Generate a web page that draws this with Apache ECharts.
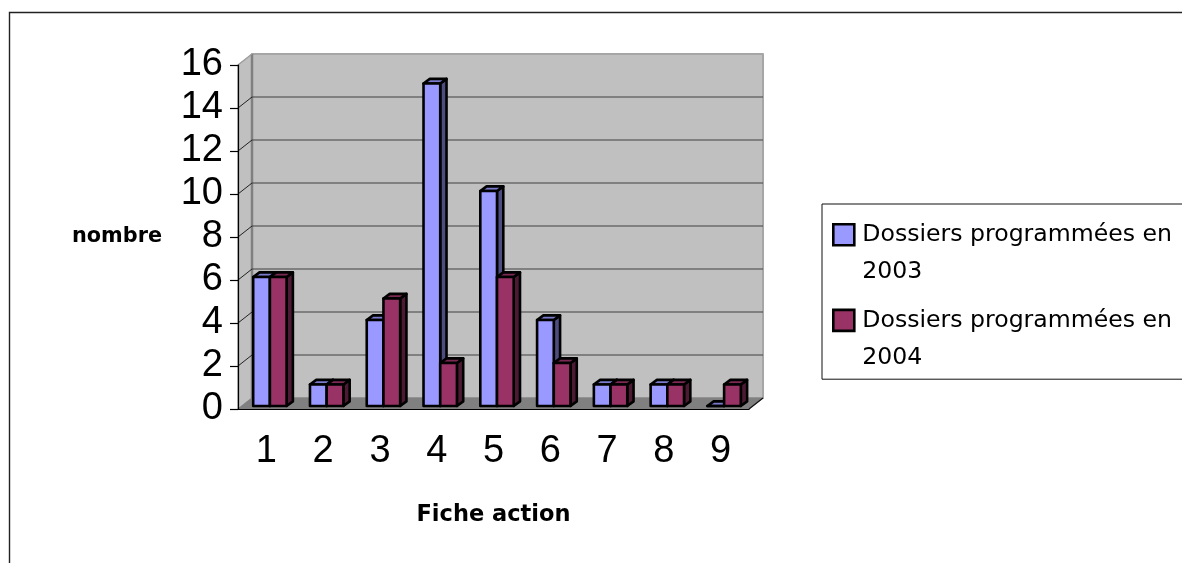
<!DOCTYPE html>
<html><head><meta charset="utf-8">
<style>html,body{margin:0;padding:0;background:#fff}#c{width:1182px;height:563px}</style>
<script src="https://cdn.jsdelivr.net/npm/echarts@6/dist/echarts.min.js"></script>
</head><body><div id="c"></div>
<script>
const categories = ['1','2','3','4','5','6','7','8','9'];
const yTicks = [2,4,6,8,10,12,14,16];
const values2003 = [6,1,4,15,10,4,1,1,0];
const values2004 = [6,1,5,2,6,2,1,1,1];
const name2003 = 'Dossiers programmées en 2003';
const name2004 = 'Dossiers programmées en 2004';

const WALL_DX = 14, WALL_DY = 11;
const BAR_W = 16.7, BAR_SHIFT_X = 3.5, BAR_SHIFT_Y = 3, BAR_DX = 6.3, BAR_DY = 4.6;
const axisFont = '"Liberation Sans", Arial, sans-serif';
const textFont = '"DejaVu Sans", sans-serif';

function poly(points, fill, stroke, lineWidth){
  return {type:'polygon', shape:{points}, style:{fill, stroke, lineWidth, lineJoin:'round'}, silent:true};
}
function line(a, b, stroke, lineWidth){
  return {type:'line', shape:{x1:a[0],y1:a[1],x2:b[0],y2:b[1]}, style:{stroke, lineWidth}, silent:true};
}
function frame(api){
  const band = api.size([1,0])[0];
  const o = api.coord([0,0]);
  return {x0:o[0]-band/2, x1:api.coord([categories.length-1,0])[0]+band/2, y0:o[1], yTop:api.coord([0,16])[1]};
}
function renderWalls(p, api){
  const f = frame(api), dx = WALL_DX, dy = WALL_DY;
  return {type:'group', children:[
    poly([[f.x0+dx,f.yTop-dy],[f.x1+dx,f.yTop-dy],[f.x1+dx,f.y0-dy],[f.x0+dx,f.y0-dy]],'#C0C0C0','#A6A6A6',2),
    poly([[f.x0,f.y0],[f.x0+dx,f.y0-dy],[f.x0+dx,f.yTop-dy],[f.x0,f.yTop]],'#C0C0C0','#A0A0A0',1.5),
    line([f.x0+dx,f.yTop-dy],[f.x0+dx,f.y0-dy],'#808080',2.5),
    poly([[f.x0,f.y0],[f.x1,f.y0],[f.x1+dx,f.y0-dy],[f.x0+dx,f.y0-dy]],'#808080','#808080',1),
    line([f.x1,f.y0],[f.x1+dx,f.y0-dy],'#111',1.2)
  ]};
}
function renderGrid(p, api){
  const f = frame(api), v = api.value(0), y = api.coord([0,v])[1];
  const isTop = v === yTicks[yTicks.length-1];
  const kids = [line([f.x0,y],[f.x0+WALL_DX,y-WALL_DY], isTop ? '#A0A0A0' : '#222', 1)];
  if(!isTop) kids.push(line([f.x0+WALL_DX,y-WALL_DY],[f.x1+WALL_DX,y-WALL_DY],'#404040',1.1));
  return {type:'group', children:kids};
}
function barRenderer(offset, front, side, top){
  return function(p, api){
    const c = api.coord([api.value(0), api.value(1)]);
    const base = api.coord([api.value(0), 0]);
    const xl = c[0]+BAR_SHIFT_X+offset*BAR_W, xr = xl+BAR_W;
    const yt = c[1]-BAR_SHIFT_Y, yb = base[1]-BAR_SHIFT_Y;
    const dx = BAR_DX, dy = BAR_DY;
    return {type:'group', children:[
      poly([[xr,yb],[xr+dx,yb-dy],[xr+dx,yt-dy],[xr,yt]],side,'#000',2.6),
      poly([[xl,yt],[xr,yt],[xr+dx,yt-dy],[xl+dx,yt-dy]],top,'#000',2.6),
      poly([[xl,yb],[xr,yb],[xr,yt],[xl,yt]],front,'#000',2.6)
    ]};
  };
}
const chart = echarts.init(document.getElementById('c'), null, {renderer:'canvas', width:1182, height:563});
chart.setOption({
  animation:false,
  backgroundColor:'#fff',
  graphic:[{type:'polyline', z:-10, silent:true, shape:{points:[[9.5,570],[9.5,12.5],[1190,12.5]]}, style:{fill:'none',stroke:'#222',lineWidth:1.4}}],
  grid:{left:238, right:433, top:65, bottom:154, containLabel:false},
  legend:{
    orient:'vertical', left:822, top:204, padding:[11,40,2,10],
    backgroundColor:'#fff', borderColor:'#111', borderWidth:1, borderRadius:0,
    itemWidth:21, itemHeight:74, itemGap:9, selectedMode:false,
    icon:'path://M0 8H21V29H0Z M0 0L0 0 M21 74L21 74',
    itemStyle:{borderColor:'#000', borderWidth:2.6},
    formatter:n => n.replace(' 200','\n200'),
    textStyle:{fontFamily:textFont, fontSize:23.6, lineHeight:37, color:'#000', padding:[0,0,0,3]},
    data:[name2003,name2004]
  },
  xAxis:{
    type:'category', data:categories, z:1,
    name:'Fiche action', nameLocation:'middle', nameGap:95,
    nameTextStyle:{fontFamily:textFont, fontWeight:'bold', fontSize:22.5, color:'#000'},
    axisLine:{lineStyle:{color:'#000',width:1.2}},
    axisTick:{length:8, lineStyle:{color:'#000',width:1.2}},
    axisLabel:{fontFamily:axisFont, fontSize:38, color:'#000', margin:24}
  },
  yAxis:{
    type:'value', min:0, max:16, interval:2, z:1,
    name:'nombre', nameLocation:'middle', nameRotate:0, nameGap:121,
    nameTextStyle:{fontFamily:textFont, fontWeight:'bold', fontSize:20.8, color:'#000', align:'center'},
    axisLine:{show:true, lineStyle:{color:'#000',width:1.2}},
    axisTick:{show:true, length:8, lineStyle:{color:'#000',width:1.2}},
    axisLabel:{fontFamily:axisFont, fontSize:38, color:'#000', margin:15},
    splitLine:{show:false}
  },
  series:[
    {type:'custom', name:'walls', z:0, silent:true, data:[[0]], encode:{x:0}, renderItem:renderWalls},
    {type:'custom', name:'grid', z:0, silent:true, data:yTicks.map(v=>[v]), encode:{y:0}, renderItem:renderGrid},
    {type:'custom', name:name2003, z:3, silent:true, itemStyle:{color:'#9999FF'},
     data:values2003.map((v,i)=>[i,v]), encode:{x:0,y:1},
     renderItem:barRenderer(-1,'#9999FF','#4D4D80','#7A7ACC')},
    {type:'custom', name:name2004, z:4, silent:true, itemStyle:{color:'#993366'},
     data:values2004.map((v,i)=>[i,v]), encode:{x:0,y:1},
     renderItem:barRenderer(0,'#993366','#4D1A33','#7A2952')}
  ]
});
</script></body></html>
